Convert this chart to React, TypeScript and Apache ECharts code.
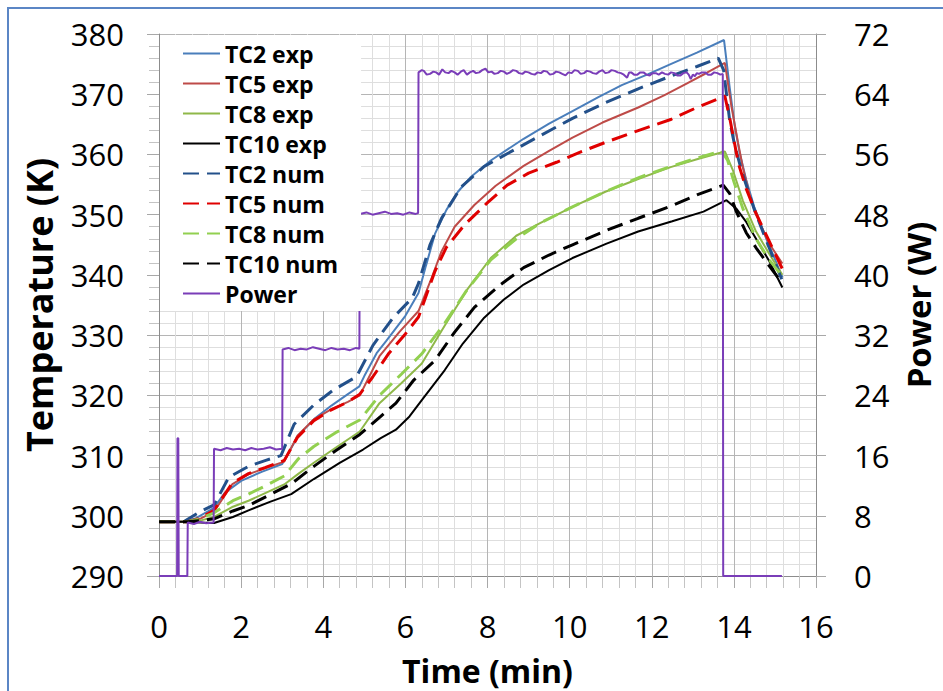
import React, { useEffect, useRef } from "react";
import * as echarts from "echarts";

type Pt = [number, number];

// Axis ranges
const TIME_RANGE = { min: 0, max: 16, step: 2 };
const TEMP_RANGE = { min: 290, max: 380, step: 10 };
const POWER_RANGE = { min: 0, max: 72, step: 8 };

// Measured temperatures (K) against time (min)
const tc2Exp: Pt[] = [
  [0, 299.0], [0.6, 299.0], [0.9, 299.6], [1.34, 301.3], [1.6, 303.8], [2.0, 305.8], [2.5, 307.3],
  [3.0, 308.6], [3.1, 309.8], [3.4, 313.4], [3.8, 316.2], [4.2, 318.3], [4.6, 320.2], [4.88, 321.5],
  [5.0, 323.2], [5.3, 327.0], [5.53, 329.0], [6.0, 333.2], [6.32, 337.0], [6.5, 341.5], [6.72, 346.8],
  [7.0, 350.8], [7.28, 353.8], [7.6, 356.3], [8.08, 359.0], [8.88, 362.6], [9.5, 365.1], [10.07, 367.2],
  [10.7, 369.5], [11.27, 371.5], [11.9, 373.3], [12.46, 375.0], [13.1, 376.9], [13.76, 379.0],
  [13.9, 371.0], [14.02, 364.8], [14.14, 360.3], [14.3, 355.8], [14.5, 351.2], [14.8, 345.8],
  [15.0, 342.6], [15.18, 339.6],
];

const tc5Exp: Pt[] = [
  [0, 299.0], [0.7, 299.0], [1.0, 299.5], [1.34, 300.7], [1.78, 305.2], [2.18, 306.9], [2.58, 307.9],
  [3.05, 309.0], [3.37, 313.3], [3.77, 316.0], [4.17, 317.6], [4.6, 318.9], [4.89, 320.0], [5.37, 326.5],
  [5.85, 330.5], [6.32, 334.0], [6.64, 339.5], [6.88, 343.9], [7.2, 348.0], [7.68, 351.6], [8.2, 354.8],
  [8.88, 358.1], [9.5, 360.6], [10.07, 362.8], [10.8, 365.3], [11.67, 367.8], [12.3, 369.8],
  [12.86, 371.8], [13.3, 373.4], [13.78, 375.2], [13.94, 368.0], [14.1, 362.0], [14.22, 357.8],
  [14.4, 352.8], [14.54, 350.0], [14.86, 345.2], [15.18, 341.9],
];

const tc8Exp: Pt[] = [
  [0, 299.0], [0.7, 299.0], [1.0, 299.2], [1.34, 299.8], [1.8, 301.5], [2.18, 302.5], [2.6, 303.8],
  [3.05, 305.2], [3.4, 307.0], [3.77, 308.8], [4.3, 311.3], [4.89, 314.0], [5.37, 318.7], [5.9, 322.0],
  [6.4, 325.3], [6.96, 331.6], [7.5, 337.5], [8.08, 342.8], [8.7, 346.5], [9.28, 348.6], [10.07, 351.3],
  [10.87, 353.8], [11.7, 356.0], [12.46, 357.9], [13.1, 359.2], [13.78, 360.5], [13.98, 357.3],
  [14.22, 352.3], [14.54, 347.2], [14.86, 343.5], [15.18, 340.0],
];

const tc10Exp: Pt[] = [
  [0, 299.0], [0.7, 299.0], [1.0, 298.9], [1.34, 298.8], [1.8, 299.8], [2.18, 300.9], [2.7, 302.3],
  [3.22, 303.6], [3.77, 306.1], [4.4, 308.8], [4.97, 311.0], [5.4, 312.9], [5.77, 314.3], [6.1, 316.5],
  [6.4, 319.2], [6.96, 324.2], [7.4, 328.6], [7.92, 332.9], [8.4, 335.9], [8.88, 338.4], [9.5, 340.8],
  [10.07, 342.8], [10.9, 345.2], [11.67, 347.2], [12.5, 348.9], [13.26, 350.5], [13.82, 352.4],
  [14.06, 351.0], [14.3, 348.8], [14.54, 346.0], [14.86, 342.3], [15.18, 337.9],
];

// Simulated temperatures (K)
const tc2Num: Pt[] = [
  [0, 299.0], [0.6, 299.0], [0.98, 300.6], [1.34, 301.8], [1.7, 306.4], [2.18, 308.2], [2.6, 309.2],
  [2.97, 310.0], [3.29, 315.2], [3.77, 318.4], [4.25, 320.9], [4.81, 323.1], [5.21, 328.3],
  [5.69, 332.8], [6.17, 336.2], [6.32, 338.6], [6.6, 345.0], [6.88, 349.4], [7.36, 354.6],
  [7.92, 358.0], [8.5, 360.2], [9.28, 363.1], [10.07, 366.0], [10.87, 368.6], [11.67, 370.9],
  [12.46, 373.0], [13.1, 374.6], [13.62, 376.0], [13.75, 374.0], [13.9, 365.5], [14.02, 361.5],
  [14.2, 357.0], [14.5, 350.8], [14.86, 344.5], [15.18, 339.0],
];

const tc5Num: Pt[] = [
  [0, 299.0], [0.7, 299.0], [1.0, 299.6], [1.34, 300.9], [1.78, 305.4], [2.18, 307.0], [2.58, 308.0],
  [3.05, 309.2], [3.37, 313.0], [3.77, 315.8], [4.17, 317.5], [4.6, 318.9], [4.89, 320.2], [5.2, 323.0],
  [5.6, 327.0], [6.0, 330.2], [6.32, 333.0], [6.72, 340.6], [7.0, 344.6], [7.44, 348.3], [8.0, 352.0],
  [8.48, 354.9], [9.0, 356.9], [9.68, 358.7], [10.3, 360.5], [10.87, 362.0], [11.6, 363.8],
  [12.46, 365.8], [13.1, 367.8], [13.78, 369.7], [13.9, 366.0], [14.11, 358.5], [14.3, 354.3],
  [14.54, 350.2], [14.86, 345.6], [15.18, 341.0],
];

const tc8Num: Pt[] = [
  [0, 299.0], [0.7, 299.0], [1.0, 299.5], [1.34, 300.5], [1.8, 302.5], [2.18, 303.6], [2.6, 305.0],
  [3.05, 306.6], [3.4, 309.5], [3.77, 311.5], [4.3, 313.8], [4.89, 315.9], [5.37, 320.0], [5.9, 323.5],
  [6.4, 326.9], [6.96, 332.0], [7.5, 337.5], [8.08, 342.5], [8.7, 346.0], [9.28, 348.6], [10.07, 351.3],
  [10.87, 353.8], [11.7, 356.2], [12.46, 358.0], [13.1, 359.4], [13.7, 360.6], [13.85, 359.0],
  [14.0, 355.5], [14.22, 351.0], [14.54, 346.0], [14.86, 342.5], [15.18, 339.8],
];

const tc10Num: Pt[] = [
  [0, 299.0], [0.7, 299.0], [1.0, 299.2], [1.34, 299.5], [1.8, 300.8], [2.18, 301.7], [2.7, 303.5],
  [3.22, 305.3], [3.77, 308.2], [4.3, 310.8], [4.89, 313.5], [5.4, 316.5], [5.77, 318.7], [6.2, 322.5],
  [6.72, 325.8], [7.2, 330.5], [7.68, 334.6], [8.3, 338.3], [8.88, 341.2], [9.5, 343.3], [10.07, 345.0],
  [10.9, 347.4], [11.67, 349.4], [12.5, 351.5], [13.1, 353.3], [13.74, 354.9], [13.9, 353.5],
  [14.06, 350.5], [14.3, 347.0], [14.54, 344.5], [14.86, 341.5], [15.18, 338.6],
];

// Heater power (W) against time (min)
const power: Pt[] = [
  [0, 0], [0.44, 0], [0.45, 18.3], [0.47, 18.3], [0.48, 0], [0.69, 0], [0.7, 7.1], [0.85, 6.9],
  [1.0, 7.2], [1.15, 7.0], [1.33, 7.1], [1.34, 16.9], [1.5, 16.7], [1.65, 17.0], [1.8, 16.8],
  [1.95, 16.9], [2.1, 16.7], [2.25, 17.0], [2.4, 16.8], [2.55, 16.9], [2.7, 17.1], [2.85, 16.8],
  [3.0, 16.9], [3.01, 30.1], [3.15, 30.3], [3.3, 30.0], [3.45, 30.2], [3.6, 30.1], [3.75, 30.4],
  [3.9, 30.2], [4.05, 30.0], [4.2, 30.3], [4.35, 30.1], [4.5, 30.2], [4.65, 30.0], [4.8, 30.3],
  [4.88, 30.2], [4.89, 48.1], [5.05, 48.3], [5.2, 48.0], [5.35, 48.2], [5.5, 48.4], [5.65, 48.1],
  [5.8, 48.2], [5.95, 48.0], [6.1, 48.3], [6.25, 48.1], [6.31, 48.2], [6.32, 66.9], [6.4, 67.2],
  [6.45, 67.1], [6.52, 66.6], [6.6, 66.7], [6.68, 67.0], [6.75, 66.9], [6.82, 66.6], [6.9, 67.3],
  [6.97, 66.9], [7.05, 66.8], [7.12, 67.1], [7.2, 66.9], [7.27, 66.6], [7.35, 67.0], [7.42, 67.2],
  [7.5, 66.6], [7.57, 66.9], [7.65, 67.1], [7.72, 66.8], [7.8, 66.9], [7.87, 67.2], [7.95, 67.4],
  [8.02, 66.9], [8.1, 67.0], [8.17, 66.7], [8.25, 66.8], [8.32, 67.1], [8.4, 67.0], [8.47, 66.7],
  [8.55, 66.9], [8.62, 67.2], [8.7, 67.1], [8.77, 66.8], [8.85, 66.7], [8.92, 67.0], [9.0, 66.9],
  [9.07, 66.7], [9.15, 66.6], [9.22, 66.9], [9.3, 66.8], [9.37, 67.1], [9.45, 67.0], [9.52, 66.6],
  [9.6, 66.7], [9.67, 67.0], [9.75, 66.9], [9.82, 66.7], [9.9, 66.5], [9.97, 66.9], [10.05, 66.8],
  [10.12, 67.2], [10.2, 67.1], [10.27, 66.7], [10.35, 66.8], [10.42, 67.1], [10.5, 67.0],
  [10.57, 66.8], [10.65, 66.7], [10.72, 67.0], [10.8, 67.2], [10.87, 66.8], [10.95, 66.9],
  [11.02, 67.2], [11.1, 67.1], [11.17, 66.9], [11.25, 66.8], [11.32, 66.6], [11.4, 66.2],
  [11.45, 66.9], [11.5, 66.9], [11.57, 66.6], [11.65, 66.6], [11.72, 66.9], [11.8, 66.9],
  [11.87, 66.6], [11.95, 66.5], [12.02, 66.8], [12.1, 66.8], [12.17, 66.6], [12.25, 66.9],
  [12.32, 66.7], [12.4, 66.6], [12.47, 66.9], [12.55, 66.8], [12.62, 66.5], [12.7, 66.5],
  [12.77, 66.8], [12.85, 66.9], [12.9, 66.6], [12.95, 66.0], [13.0, 66.6], [13.05, 66.4],
  [13.1, 66.8], [13.15, 66.7], [13.22, 66.9], [13.3, 66.9], [13.37, 66.6], [13.45, 66.6],
  [13.52, 66.9], [13.6, 66.8], [13.67, 66.6], [13.73, 66.7], [13.74, 0], [15.17, 0],
];

const FONT = "'Open Sans', sans-serif";
const MAJOR_GRID = "#b5b5b5";
const MINOR_GRID = "#dedede";
const AXIS_LINE = "#8c8c8c";
const WIDTH = 943;
const HEIGHT = 691;

function lineSeries(name: string, data: Pt[], color: string, dashed: boolean, axis = 0, width = 2) {
  return {
    name,
    type: "line",
    data,
    yAxisIndex: axis,
    symbol: "none",
    showSymbol: false,
    lineStyle: { color, width, type: dashed ? [16, 8] : "solid" },
    itemStyle: { color },
    emphasis: { disabled: true },
  };
}

export default function App() {
  const ref = useRef<HTMLDivElement>(null);

  useEffect(() => {
    if (!ref.current) return;
    const chart = echarts.init(ref.current, null, { renderer: "svg" });
    chart.setOption({
      animation: false,
      backgroundColor: "#ffffff",
      grid: { left: 159, right: 115, top: 34, bottom: 110 },
      graphic: [
        {
          type: "rect",
          shape: { x: 8, y: 8, width: 960, height: 700 },
          style: { fill: "none", stroke: "#5b86c5", lineWidth: 2 },
          silent: true,
        },
      ],
      legend: {
        orient: "vertical",
        left: 160,
        top: 35,
        padding: [7, 23, 6, 22],
        itemGap: 7,
        itemWidth: 37,
        itemHeight: 14,
        backgroundColor: "#ffffff",
        // line-only keys: hide the marker that line series add in the middle
        itemStyle: { color: "rgba(0,0,0,0)", borderWidth: 0, opacity: 0 },
        textStyle: { fontFamily: FONT, fontSize: 23, fontWeight: "bold", color: "#000", lineHeight: 23 },
        data: [
          "TC2 exp", "TC5 exp", "TC8 exp", "TC10 exp",
          "TC2 num", "TC5 num", "TC8 num", "TC10 num", "Power",
        ],
      },
      xAxis: {
        type: "value",
        min: TIME_RANGE.min,
        max: TIME_RANGE.max,
        interval: TIME_RANGE.step,
        name: "Time (min)",
        nameLocation: "middle",
        nameGap: 78,
        nameTextStyle: { fontFamily: FONT, fontSize: 32, fontWeight: "bold", color: "#000" },
        axisLine: { show: true, onZero: false, lineStyle: { color: AXIS_LINE, width: 1 } },
        axisTick: { show: true, length: 12, lineStyle: { color: "#a8a8a8" } },
        minorTick: { show: true, splitNumber: 5, length: 12, lineStyle: { color: "#c4c4c4" } },
        splitLine: { show: true, lineStyle: { color: MAJOR_GRID } },
        minorSplitLine: { show: true, lineStyle: { color: MINOR_GRID } },
        axisLabel: { fontFamily: FONT, fontSize: 31, color: "#000", margin: 34 },
      },
      yAxis: [
        {
          type: "value",
          min: TEMP_RANGE.min,
          max: TEMP_RANGE.max,
          interval: TEMP_RANGE.step,
          name: "Temperature (K)",
          nameLocation: "middle",
          nameRotate: 90,
          nameGap: 102,
          nameTextStyle: { fontFamily: FONT, fontSize: 36, fontWeight: "bold", color: "#000" },
          axisLine: { show: true, lineStyle: { color: AXIS_LINE, width: 1 } },
          axisTick: { show: true, length: 12, lineStyle: { color: "#a8a8a8" } },
          minorTick: { show: true, splitNumber: 5, length: 10, lineStyle: { color: "#c4c4c4" } },
          splitLine: { show: true, lineStyle: { color: MAJOR_GRID } },
          minorSplitLine: { show: true, lineStyle: { color: MINOR_GRID } },
          axisLabel: { fontFamily: FONT, fontSize: 31, color: "#000", margin: 35 },
        },
        {
          type: "value",
          position: "right",
          min: POWER_RANGE.min,
          max: POWER_RANGE.max,
          interval: POWER_RANGE.step,
          name: "Power (W)",
          nameLocation: "middle",
          nameRotate: 90,
          nameGap: 86,
          nameTextStyle: { fontFamily: FONT, fontSize: 33, fontWeight: "bold", color: "#000" },
          axisLine: { show: true, lineStyle: { color: AXIS_LINE, width: 1 } },
          axisTick: { show: true, length: 10, lineStyle: { color: "#a8a8a8" } },
          splitLine: { show: false },
          axisLabel: { fontFamily: FONT, fontSize: 31, color: "#000", margin: 38 },
        },
      ],
      series: [
        lineSeries("TC2 exp", tc2Exp, "#4a7ebb", false),
        lineSeries("TC5 exp", tc5Exp, "#be4b48", false),
        lineSeries("TC8 exp", tc8Exp, "#8fb849", false),
        lineSeries("TC10 exp", tc10Exp, "#000000", false),
        lineSeries("TC2 num", tc2Num, "#23508a", true, 0, 3),
        lineSeries("TC5 num", tc5Num, "#e00000", true, 0, 3),
        lineSeries("TC8 num", tc8Num, "#92d050", true, 0, 3),
        lineSeries("TC10 num", tc10Num, "#000000", true, 0, 3),
        lineSeries("Power", power, "#7a3db8", false, 1, 2),
      ],
    });
    return () => chart.dispose();
  }, []);

  return (
    <div
      ref={ref}
      style={{ position: "fixed", left: 0, top: 0, width: WIDTH, height: HEIGHT, background: "#fff" }}
    />
  );
}
